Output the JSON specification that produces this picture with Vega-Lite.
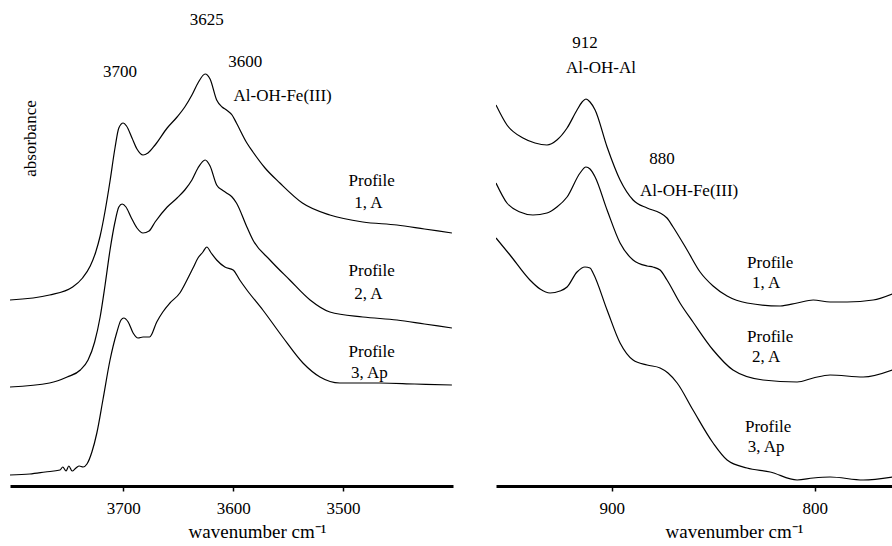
{
  "$schema": "https://vega.github.io/schema/vega-lite/v6.json",
  "padding": {"left": 10, "top": 0, "right": 0, "bottom": 0},
  "background": "white",
  "config": {
    "view": {"stroke": null},
    "axis": {"grid": false}
  },
  "spacing": 43,
  "datasets": {
    "oh": [
      {"p":1,"w":3803,"a":1.86},{"p":1,"w":3767,"a":1.91},{"p":1,"w":3746,"a":1.99},{"p":1,"w":3737,"a":2.08},{"p":1,"w":3730,"a":2.20},{"p":1,"w":3725,"a":2.34},{"p":1,"w":3721,"a":2.50},{"p":1,"w":3716.5,"a":2.75},{"p":1,"w":3712,"a":3.05},{"p":1,"w":3707.5,"a":3.38},{"p":1,"w":3704,"a":3.58},{"p":1,"w":3700,"a":3.63},{"p":1,"w":3697,"a":3.60},{"p":1,"w":3692,"a":3.48},{"p":1,"w":3687.5,"a":3.37},{"p":1,"w":3682,"a":3.31},{"p":1,"w":3677.5,"a":3.33},{"p":1,"w":3671,"a":3.41},{"p":1,"w":3660,"a":3.58},{"p":1,"w":3651,"a":3.69},{"p":1,"w":3644,"a":3.79},{"p":1,"w":3637.5,"a":3.91},{"p":1,"w":3632,"a":4.03},{"p":1,"w":3625.5,"a":4.12},{"p":1,"w":3621,"a":4.07},{"p":1,"w":3615,"a":3.86},{"p":1,"w":3610,"a":3.79},{"p":1,"w":3606,"a":3.76},{"p":1,"w":3601,"a":3.71},{"p":1,"w":3597,"a":3.63},{"p":1,"w":3587.5,"a":3.43},{"p":1,"w":3582,"a":3.34},{"p":1,"w":3571,"a":3.18},{"p":1,"w":3557.5,"a":3.03},{"p":1,"w":3537,"a":2.83},{"p":1,"w":3512,"a":2.71},{"p":1,"w":3482,"a":2.64},{"p":1,"w":3451,"a":2.61},{"p":1,"w":3426,"a":2.57},{"p":1,"w":3401,"a":2.53},
      {"p":2,"w":3803,"a":0.99},{"p":2,"w":3767,"a":1.03},{"p":2,"w":3751,"a":1.09},{"p":2,"w":3739,"a":1.16},{"p":2,"w":3732,"a":1.26},{"p":2,"w":3726,"a":1.44},{"p":2,"w":3721,"a":1.69},{"p":2,"w":3716.5,"a":2.01},{"p":2,"w":3712,"a":2.36},{"p":2,"w":3707.5,"a":2.64},{"p":2,"w":3704,"a":2.79},{"p":2,"w":3701,"a":2.82},{"p":2,"w":3697.5,"a":2.79},{"p":2,"w":3693,"a":2.69},{"p":2,"w":3687.5,"a":2.58},{"p":2,"w":3682,"a":2.53},{"p":2,"w":3676.5,"a":2.55},{"p":2,"w":3671,"a":2.64},{"p":2,"w":3660,"a":2.79},{"p":2,"w":3651,"a":2.88},{"p":2,"w":3644,"a":2.96},{"p":2,"w":3637.5,"a":3.06},{"p":2,"w":3632,"a":3.18},{"p":2,"w":3625.5,"a":3.26},{"p":2,"w":3621,"a":3.20},{"p":2,"w":3615,"a":3.01},{"p":2,"w":3610,"a":2.96},{"p":2,"w":3606,"a":2.93},{"p":2,"w":3601,"a":2.89},{"p":2,"w":3597,"a":2.83},{"p":2,"w":3587.5,"a":2.59},{"p":2,"w":3582,"a":2.46},{"p":2,"w":3566.5,"a":2.26},{"p":2,"w":3548.5,"a":2.06},{"p":2,"w":3530,"a":1.86},{"p":2,"w":3512,"a":1.74},{"p":2,"w":3482,"a":1.69},{"p":2,"w":3451,"a":1.66},{"p":2,"w":3426,"a":1.62},{"p":2,"w":3401,"a":1.58},
      {"p":3,"w":3803,"a":0.11},{"p":3,"w":3785,"a":0.12},{"p":3,"w":3771,"a":0.14},{"p":3,"w":3757.5,"a":0.16},{"p":3,"w":3755,"a":0.19},{"p":3,"w":3752,"a":0.15},{"p":3,"w":3749.5,"a":0.20},{"p":3,"w":3746.5,"a":0.15},{"p":3,"w":3743,"a":0.18},{"p":3,"w":3740,"a":0.20},{"p":3,"w":3736.5,"a":0.19},{"p":3,"w":3733,"a":0.22},{"p":3,"w":3728.5,"a":0.34},{"p":3,"w":3724,"a":0.53},{"p":3,"w":3718.5,"a":0.86},{"p":3,"w":3712,"a":1.26},{"p":3,"w":3706,"a":1.53},{"p":3,"w":3702,"a":1.66},{"p":3,"w":3699.5,"a":1.68},{"p":3,"w":3695.5,"a":1.64},{"p":3,"w":3691,"a":1.53},{"p":3,"w":3686.5,"a":1.48},{"p":3,"w":3682,"a":1.49},{"p":3,"w":3676,"a":1.49},{"p":3,"w":3669.5,"a":1.64},{"p":3,"w":3664,"a":1.74},{"p":3,"w":3657.5,"a":1.83},{"p":3,"w":3648.5,"a":1.93},{"p":3,"w":3642,"a":2.06},{"p":3,"w":3636.5,"a":2.18},{"p":3,"w":3632,"a":2.28},{"p":3,"w":3627.5,"a":2.34},{"p":3,"w":3624,"a":2.39},{"p":3,"w":3620,"a":2.33},{"p":3,"w":3615,"a":2.26},{"p":3,"w":3607.5,"a":2.19},{"p":3,"w":3600,"a":2.16},{"p":3,"w":3594,"a":2.06},{"p":3,"w":3587.5,"a":1.96},{"p":3,"w":3573,"a":1.76},{"p":3,"w":3555,"a":1.49},{"p":3,"w":3536.5,"a":1.23},{"p":3,"w":3521,"a":1.09},{"p":3,"w":3503,"a":1.03},{"p":3,"w":3466.5,"a":1.03},{"p":3,"w":3435,"a":1.02},{"p":3,"w":3401,"a":1.01}
    ],
    "lat": [
      {"p":1,"w":957,"a":3.81},{"p":1,"w":951.6,"a":3.61},{"p":1,"w":943.7,"a":3.48},{"p":1,"w":937.8,"a":3.43},{"p":1,"w":931.9,"a":3.41},{"p":1,"w":927,"a":3.46},{"p":1,"w":922,"a":3.58},{"p":1,"w":917.1,"a":3.76},{"p":1,"w":914.6,"a":3.84},{"p":1,"w":912.7,"a":3.87},{"p":1,"w":910.7,"a":3.84},{"p":1,"w":908.2,"a":3.76},{"p":1,"w":902.3,"a":3.39},{"p":1,"w":895.9,"a":3.06},{"p":1,"w":889.5,"a":2.86},{"p":1,"w":882.6,"a":2.78},{"p":1,"w":876.2,"a":2.73},{"p":1,"w":872.8,"a":2.68},{"p":1,"w":869.8,"a":2.59},{"p":1,"w":862.9,"a":2.36},{"p":1,"w":856.5,"a":2.14},{"p":1,"w":850.1,"a":2.00},{"p":1,"w":843.2,"a":1.90},{"p":1,"w":833.4,"a":1.83},{"p":1,"w":817.1,"a":1.80},{"p":1,"w":808.7,"a":1.83},{"p":1,"w":800.8,"a":1.86},{"p":1,"w":792.5,"a":1.84},{"p":1,"w":784.1,"a":1.84},{"p":1,"w":771.3,"a":1.86},{"p":1,"w":761.9,"a":1.92},
      {"p":2,"w":957,"a":3.03},{"p":2,"w":951.6,"a":2.83},{"p":2,"w":945.2,"a":2.74},{"p":2,"w":938.8,"a":2.71},{"p":2,"w":931.9,"a":2.73},{"p":2,"w":927,"a":2.79},{"p":2,"w":922,"a":2.89},{"p":2,"w":915.6,"a":3.13},{"p":2,"w":912.7,"a":3.19},{"p":2,"w":910.7,"a":3.17},{"p":2,"w":908.2,"a":3.09},{"p":2,"w":902.3,"a":2.76},{"p":2,"w":895.9,"a":2.43},{"p":2,"w":889.5,"a":2.26},{"p":2,"w":882.6,"a":2.20},{"p":2,"w":879.7,"a":2.19},{"p":2,"w":876.2,"a":2.16},{"p":2,"w":872.8,"a":2.06},{"p":2,"w":866.4,"a":1.83},{"p":2,"w":860,"a":1.64},{"p":2,"w":850.1,"a":1.36},{"p":2,"w":840.3,"a":1.16},{"p":2,"w":825.5,"a":1.06},{"p":2,"w":808.7,"a":1.04},{"p":2,"w":800.8,"a":1.08},{"p":2,"w":792.5,"a":1.11},{"p":2,"w":776.2,"a":1.09},{"p":2,"w":761.9,"a":1.16},
      {"p":3,"w":957,"a":2.48},{"p":3,"w":950.1,"a":2.31},{"p":3,"w":940.3,"a":2.06},{"p":3,"w":935.3,"a":1.97},{"p":3,"w":930.4,"a":1.93},{"p":3,"w":925.5,"a":1.95},{"p":3,"w":922,"a":1.99},{"p":3,"w":917.1,"a":2.14},{"p":3,"w":913.2,"a":2.19},{"p":3,"w":910.7,"a":2.18},{"p":3,"w":909.2,"a":2.13},{"p":3,"w":902.3,"a":1.76},{"p":3,"w":895.9,"a":1.43},{"p":3,"w":889.5,"a":1.26},{"p":3,"w":882.6,"a":1.21},{"p":3,"w":876.2,"a":1.18},{"p":3,"w":872.3,"a":1.13},{"p":3,"w":867.8,"a":1.03},{"p":3,"w":860,"a":0.76},{"p":3,"w":850.1,"a":0.43},{"p":3,"w":843.2,"a":0.26},{"p":3,"w":833.4,"a":0.18},{"p":3,"w":822,"a":0.14},{"p":3,"w":808.7,"a":0.06},{"p":3,"w":800.8,"a":0.08},{"p":3,"w":792.5,"a":0.09},{"p":3,"w":776.2,"a":0.06},{"p":3,"w":761.9,"a":0.09}
    ],
    "notesOH": [
      {"w":3624,"a":4.66,"t":"3625"},
      {"w":3703,"a":4.14,"t":"3700"},
      {"w":3589,"a":4.24,"t":"3600"},
      {"w":3555,"a":3.90,"t":"Al-OH-Fe(III)"},
      {"w":3474,"a":3.05,"t":"Profile"},
      {"w":3477,"a":2.83,"t":"1, A"},
      {"w":3474,"a":2.15,"t":"Profile"},
      {"w":3477,"a":1.92,"t":"2, A"},
      {"w":3474,"a":1.34,"t":"Profile"},
      {"w":3476,"a":1.13,"t":"3, Ap"}
    ],
    "notesLat": [
      {"w":913.2,"a":4.43,"t":"912"},
      {"w":905.3,"a":4.18,"t":"Al-OH-Al"},
      {"w":875.2,"a":3.27,"t":"880"},
      {"w":861.9,"a":2.95,"t":"Al-OH-Fe(III)"},
      {"w":822,"a":2.23,"t":"Profile"},
      {"w":824,"a":2.03,"t":"1, A"},
      {"w":822,"a":1.49,"t":"Profile"},
      {"w":824,"a":1.29,"t":"2, A"},
      {"w":823,"a":0.59,"t":"Profile"},
      {"w":824,"a":0.39,"t":"3, Ap"}
    ]
  },
  "hconcat": [
    {
      "width": 443,
      "height": 486,
      "layer": [
        {
          "data": {"name": "oh"},
          "mark": {"type": "line", "color": "black", "strokeWidth": 1.2, "interpolate": "monotone", "clip": true},
          "encoding": {
            "x": {
              "field": "w", "type": "quantitative",
              "scale": {"domain": [3400, 3803], "reverse": true, "nice": false, "zero": false},
              "axis": {
                "values": [3700, 3600, 3500], "format": "d",
                "title": "wavenumber cm⁻¹",
                "domainColor": "black", "domainWidth": 3,
                "tickColor": "black", "tickSize": 5, "tickWidth": 1.5,
                "labelFont": "serif", "labelFontSize": 17, "labelColor": "black", "labelPadding": 9,
                "titleFont": "serif", "titleFontSize": 19, "titleFontWeight": "normal", "titleColor": "black",
                "titleX": 247, "titleY": 36
              }
            },
            "y": {
              "field": "a", "type": "quantitative",
              "scale": {"domain": [0, 4.86], "nice": false, "zero": false},
              "axis": {
                "domain": false, "ticks": false, "labels": false,
                "title": "absorbance",
                "titleFont": "serif", "titleFontSize": 17, "titleFontWeight": "normal", "titleColor": "black",
                "titleX": 29, "titleY": 138
              }
            },
            "detail": {"field": "p", "type": "nominal"}
          }
        },
        {
          "data": {"name": "notesOH"},
          "mark": {"type": "text", "font": "serif", "fontSize": 17, "color": "black"},
          "encoding": {
            "x": {"field": "w", "type": "quantitative"},
            "y": {"field": "a", "type": "quantitative"},
            "text": {"field": "t"}
          }
        }
      ]
    },
    {
      "width": 396,
      "height": 486,
      "layer": [
        {
          "data": {"name": "lat"},
          "mark": {"type": "line", "color": "black", "strokeWidth": 1.2, "interpolate": "monotone", "clip": true},
          "encoding": {
            "x": {
              "field": "w", "type": "quantitative",
              "scale": {"domain": [762, 957], "reverse": true, "nice": false, "zero": false},
              "axis": {
                "values": [900, 800], "format": "d",
                "title": "wavenumber cm⁻¹",
                "domainColor": "black", "domainWidth": 3,
                "tickColor": "black", "tickSize": 5, "tickWidth": 1.5,
                "labelFont": "serif", "labelFontSize": 17, "labelColor": "black", "labelPadding": 9,
                "titleFont": "serif", "titleFontSize": 19, "titleFontWeight": "normal", "titleColor": "black",
                "titleX": 238, "titleY": 36
              }
            },
            "y": {
              "field": "a", "type": "quantitative",
              "scale": {"domain": [0, 4.86], "nice": false, "zero": false},
              "axis": null
            },
            "detail": {"field": "p", "type": "nominal"}
          }
        },
        {
          "data": {"name": "notesLat"},
          "mark": {"type": "text", "font": "serif", "fontSize": 17, "color": "black"},
          "encoding": {
            "x": {"field": "w", "type": "quantitative"},
            "y": {"field": "a", "type": "quantitative"},
            "text": {"field": "t"}
          }
        }
      ]
    }
  ]
}
